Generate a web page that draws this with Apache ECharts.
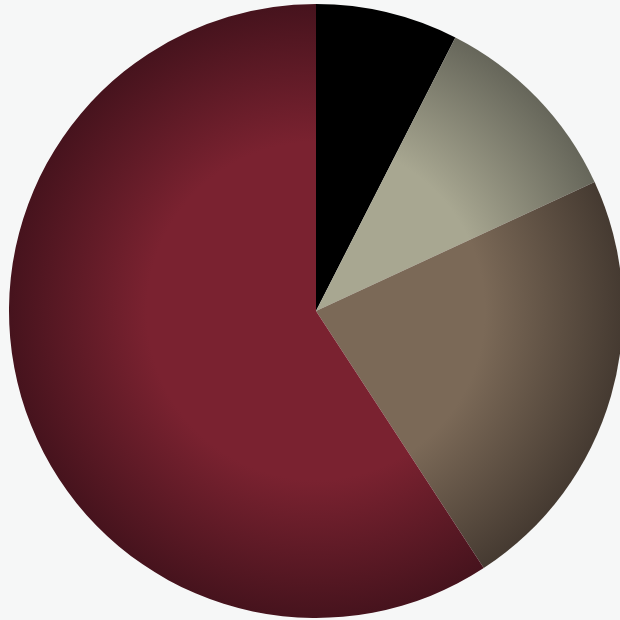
<!DOCTYPE html>
<html>
<head>
<meta charset="utf-8">
<script src="https://cdn.jsdelivr.net/npm/echarts@6/dist/echarts.min.js"></script>
<style>
html,body{margin:0;padding:0;background:#f6f7f7;}
#chart{width:620px;height:620px;}
</style>
</head>
<body>
<div id="chart"></div>
<script>
const categories = ['A', 'B', 'C', 'D'];
const values = [7.5, 10.6, 22.7, 59.2];
const baseColors = ['#000000', '#a8a791', '#7b6957', '#7a2230'];
const edgeColors = ['#000000', '#66665a', '#453a31', '#46131d'];

const cx = 316, cy = 311, R = 307;

const chart = echarts.init(document.getElementById('chart'));
const data = categories.map((c, i) => ({
  name: c,
  value: values[i],
  itemStyle: {
    color: {
      type: 'radial', x: cx, y: cy, r: R, global: true,
      colorStops: [
        { offset: 0, color: baseColors[i] },
        { offset: 0.55, color: baseColors[i] },
        { offset: 1, color: edgeColors[i] }
      ]
    }
  }
}));

chart.setOption({
  backgroundColor: '#f6f7f7',
  animation: false,
  series: [{
    type: 'pie',
    center: [cx, cy],
    radius: [0, R],
    startAngle: 90,
    clockwise: true,
    label: { show: false },
    labelLine: { show: false },
    emphasis: { disabled: true },
    itemStyle: { borderWidth: 0 },
    data: data
  }]
});
</script>
</body>
</html>
